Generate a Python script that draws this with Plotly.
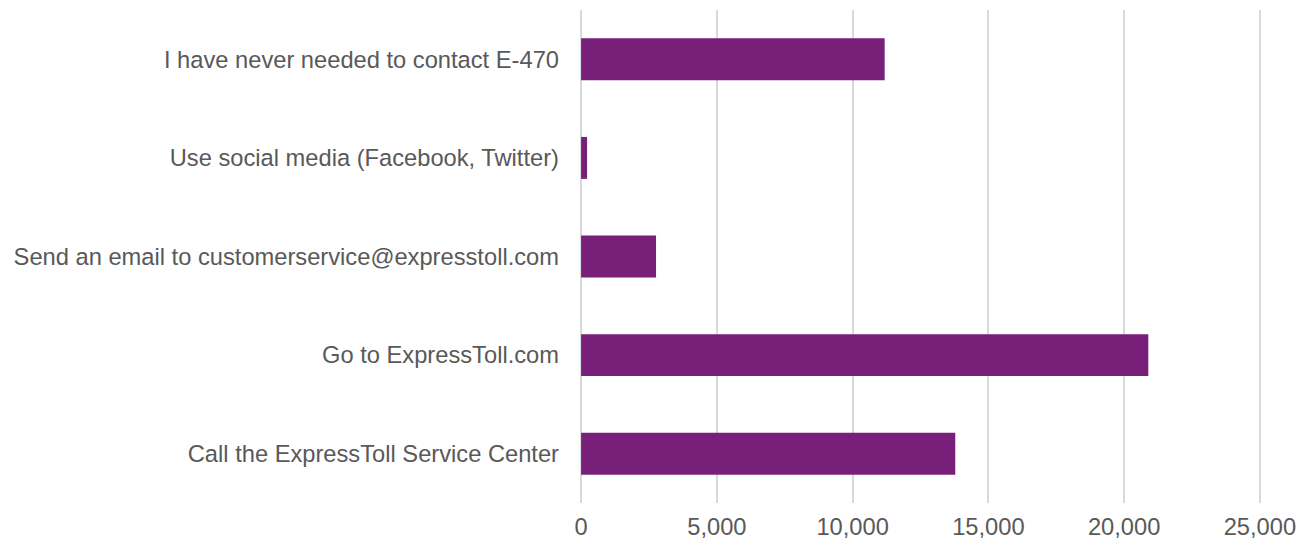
import plotly.graph_objects as go

categories = [
    "Call the ExpressToll Service Center",
    "Go to ExpressToll.com",
    "Send an email to customerservice@expresstoll.com",
    "Use social media (Facebook, Twitter)",
    "I have never needed to contact E-470",
]
values = [13780, 20890, 2760, 220, 11180]
tick_vals = [0, 5000, 10000, 15000, 20000, 25000]
tick_text = ["0", "5,000", "10,000", "15,000", "20,000", "25,000"]

fig = go.Figure(
    go.Bar(
        x=values,
        y=categories,
        orientation="h",
        marker=dict(color="#781F7A", line=dict(width=0)),
        width=0.425,
    )
)

fig.update_layout(
    width=1300,
    height=537,
    margin=dict(l=572, r=47, t=2, b=42),
    paper_bgcolor="white",
    plot_bgcolor="white",
    font=dict(family="Liberation Sans, Arial, sans-serif", size=23.7, color="#595959"),
    showlegend=False,
)
fig.update_xaxes(
    range=[-40, 25040],
    tickvals=tick_vals,
    ticktext=tick_text,
    showgrid=True,
    gridcolor="#D9D9D9",
    gridwidth=1.5,
    zeroline=False,
    showline=False,
    ticks="outside",
    ticklen=3,
    tickcolor="rgba(0,0,0,0)",
    tickfont=dict(size=23.7, color="#595959"),
    automargin=False,
)
fig.update_yaxes(
    showgrid=False,
    zeroline=False,
    showline=False,
    ticks="",
    ticklabelstandoff=20,
    tickfont=dict(size=23.7, color="#595959"),
    automargin=False,
)

fig.write_html("out.html")
